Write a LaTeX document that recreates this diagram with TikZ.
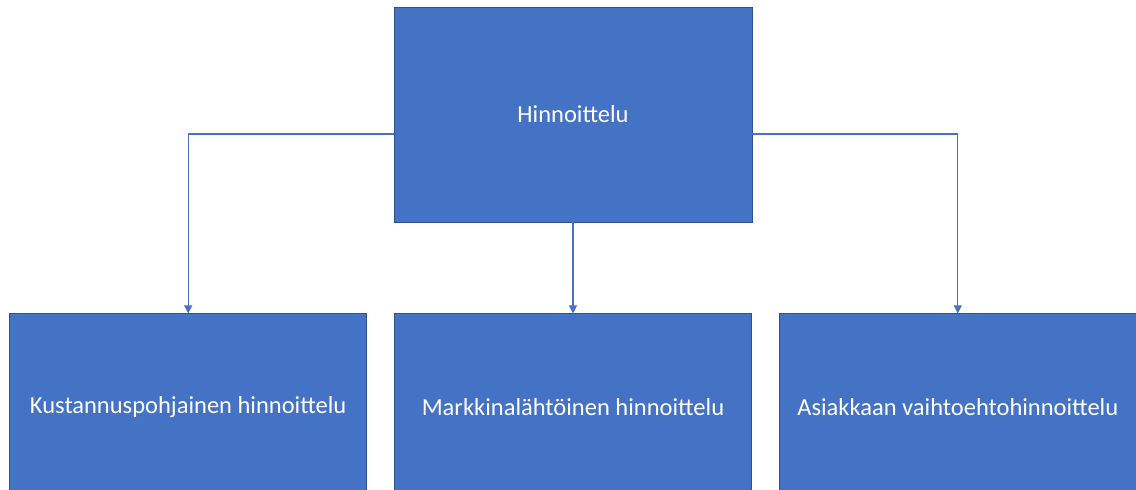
\documentclass[tikz,border=0pt]{standalone}
\usepackage{fontspec}
\setmainfont{Carlito}
\usetikzlibrary{positioning,arrows.meta}
\definecolor{boxblue}{HTML}{4472C4}
\definecolor{boxedge}{HTML}{2F528F}
\tikzset{node distance=91pt and 27pt,
  box/.style={draw=boxedge,fill=boxblue,text=white,line width=0.8pt,inner sep=0pt,
    minimum width=357pt,minimum height=186pt,font=\fontsize{24.5}{28}\selectfont},
  root/.style={box,minimum width=358pt,minimum height=215pt},
  link/.style={draw=boxblue,line width=1.2pt,-{Triangle[length=8pt,width=8pt]}}}

\begin{document}
\begin{tikzpicture}[x=1pt,y=1pt]
				\useasboundingbox (0,0) rectangle (1136,-490);
				\node[root] (H) at (573,-114.5) {Hinnoittelu};
				\node[box] (M) [below=of H] {Markkinalähtöinen hinnoittelu};
				\node[box] (K) [left=of M] {Kustannuspohjainen hinnoittelu};
				\node[box] (A) [right=of M] {Asiakkaan vaihtoehtohinnoittelu};

				\path[link] ([yshift=-19.5pt]H.west) -| (K.north);
				\path[link] (H.south) -- (M.north);
				\path[link] ([yshift=-19.5pt]H.east) -| (A.north);
			\end{tikzpicture}
\end{document}
